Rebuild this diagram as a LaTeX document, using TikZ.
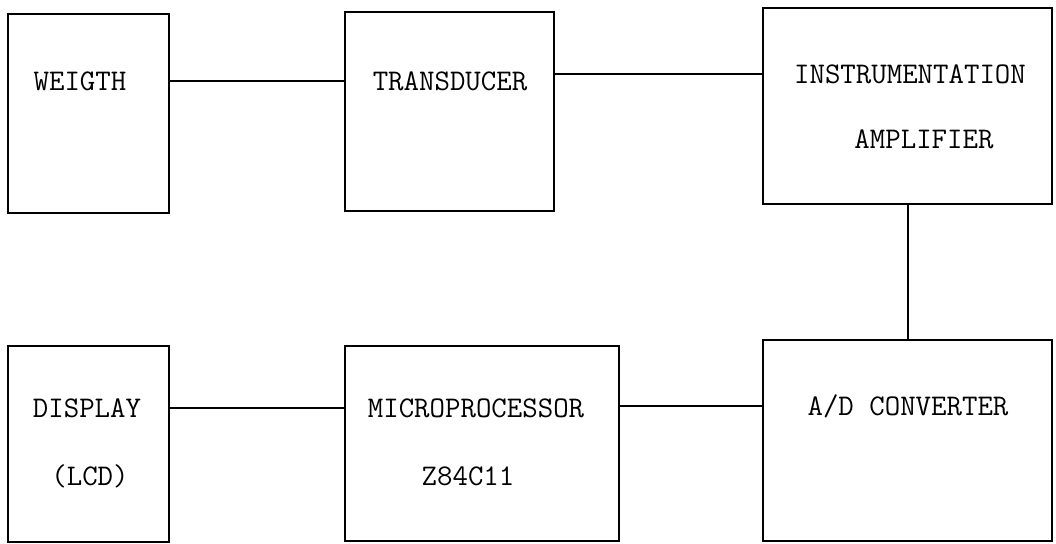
\documentclass[tikz,border=0pt]{standalone}
\usepackage{tikz}
\begin{document}
\begin{tikzpicture}[
    x=0.5pt, y=-0.5pt,
    font=\fontsize{15}{18}\selectfont\ttfamily,
    blk/.style={draw, line width=1pt, inner sep=0pt, minimum width=#1},
    blk/.default=80.5pt,
    lbl/.style={inner sep=0pt},
    wire/.style={line width=1pt},
  ]
  \useasboundingbox (0,0) rectangle (1056,544);

  % ---- Top row ----
  \node[blk, minimum height=99.5pt] (weigth) at (88.5,113.5) {};
  \node[blk=104.5pt, minimum height=99.5pt] (trans) at (449.5,111.5) {};
  \node[blk=144.5pt, minimum height=98pt] (instr) at (907.5,106) {};

  \node[lbl] (weigth-t) at (80,81) {WEIGTH};
  \node[lbl] (trans-t) at (450,81) {TRANSDUCER};
  \node[lbl] (instr-t) at (910,74) {INSTRUMENTATION};
  \node[lbl] (instr-b) at (924,139) {AMPLIFIER};

  % ---- Bottom row ----
  \node[blk, minimum height=98pt] (disp) at (88.5,444) {};
  \node[blk=137pt, minimum height=97.5pt] (micro) at (482,443.5) {};
  \node[blk=144.5pt, minimum height=100.5pt] (adc) at (907.5,440.5) {};

  \node[lbl] (disp-t) at (87,408) {DISPLAY};
  \node[lbl] (disp-b) at (90,476) {(LCD)};
  \node[lbl] (micro-t) at (476,408) {MICROPROCESSOR};
  \node[lbl] (micro-b) at (468,476) {Z84C11};
  \node[lbl] (adc-t) at (908,406) {A/D CONVERTER};

  % ---- Links ----
  \draw[wire] (weigth.east |- weigth-t) -- (trans.west |- weigth-t);
  \draw[wire] (trans.east |- instr-t) -- (instr.west |- instr-t);
  \draw[wire] (instr) -- (adc);
  \draw[wire] (adc.west |- adc-t) -- (micro.east |- adc-t);
  \draw[wire] (micro.west |- disp-t) -- (disp.east |- disp-t);
\end{tikzpicture}
\end{document}
